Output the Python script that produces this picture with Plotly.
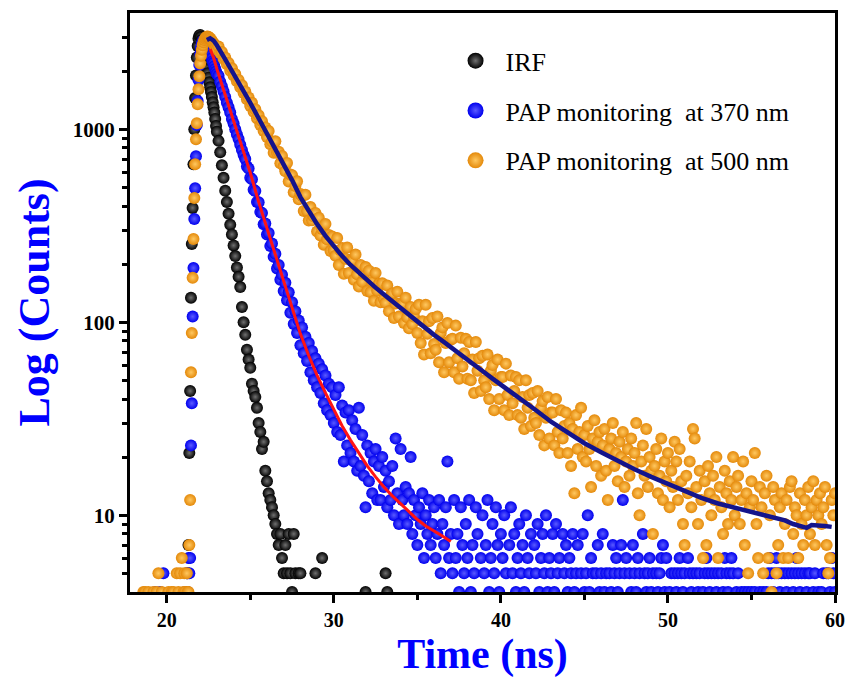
import math
import plotly.graph_objects as go

# ---------------- data ----------------
# time channels (ns): 0.1 ns steps, 0.05 ns around the rise/peak
TIME_NS = [
    18.5, 18.6, 18.7, 18.8, 18.9, 19.0, 19.1, 19.2, 19.3, 19.4,
    19.5, 19.6, 19.7, 19.8, 19.9, 20.0, 20.1, 20.2, 20.3, 20.4,
    20.5, 20.6, 20.7, 20.8, 20.9, 21.0,
    21.05, 21.1, 21.15, 21.2, 21.25, 21.3, 21.35, 21.4, 21.45, 21.5,
    21.55, 21.6, 21.65, 21.7, 21.75, 21.8, 21.85, 21.9, 21.95, 22.0,
    22.05, 22.1, 22.15, 22.2, 22.25, 22.3, 22.35, 22.4, 22.45, 22.5,
    22.55, 22.6, 22.65, 22.7, 22.75, 22.8, 22.85, 22.9, 22.95, 23.0,
    23.1, 23.2, 23.3, 23.4, 23.5, 23.6, 23.7, 23.8, 23.9, 24.0,
    24.1, 24.2, 24.3, 24.4, 24.5, 24.6, 24.7, 24.8, 24.9, 25.0,
    25.1, 25.2, 25.3, 25.4, 25.5, 25.6, 25.7, 25.8, 25.9, 26.0,
    26.1, 26.2, 26.3, 26.4, 26.5, 26.6, 26.7, 26.8, 26.9, 27.0,
    27.1, 27.2, 27.3, 27.4, 27.5, 27.6, 27.7, 27.8, 27.9, 28.0,
    28.1, 28.2, 28.3, 28.4, 28.5, 28.6, 28.7, 28.8, 28.9, 29.0,
    29.1, 29.2, 29.3, 29.4, 29.5, 29.6, 29.7, 29.8, 29.9, 30.0,
    30.1, 30.2, 30.3, 30.4, 30.5, 30.6, 30.7, 30.8, 30.9, 31.0,
    31.1, 31.2, 31.3, 31.4, 31.5, 31.6, 31.7, 31.8, 31.9, 32.0,
    32.1, 32.2, 32.3, 32.4, 32.5, 32.6, 32.7, 32.8, 32.9, 33.0,
    33.1, 33.2, 33.3, 33.4, 33.5, 33.6, 33.7, 33.8, 33.9, 34.0,
    34.1, 34.2, 34.3, 34.4, 34.5, 34.6, 34.7, 34.8, 34.9, 35.0,
    35.1, 35.2, 35.3, 35.4, 35.5, 35.6, 35.7, 35.8, 35.9, 36.0,
    36.1, 36.2, 36.3, 36.4, 36.5, 36.6, 36.7, 36.8, 36.9, 37.0,
    37.1, 37.2, 37.3, 37.4, 37.5, 37.6, 37.7, 37.8, 37.9, 38.0,
    38.1, 38.2, 38.3, 38.4, 38.5, 38.6, 38.7, 38.8, 38.9, 39.0,
    39.1, 39.2, 39.3, 39.4, 39.5, 39.6, 39.7, 39.8, 39.9, 40.0,
    40.1, 40.2, 40.3, 40.4, 40.5, 40.6, 40.7, 40.8, 40.9, 41.0,
    41.1, 41.2, 41.3, 41.4, 41.5, 41.6, 41.7, 41.8, 41.9, 42.0,
    42.1, 42.2, 42.3, 42.4, 42.5, 42.6, 42.7, 42.8, 42.9, 43.0,
    43.1, 43.2, 43.3, 43.4, 43.5, 43.6, 43.7, 43.8, 43.9, 44.0,
    44.1, 44.2, 44.3, 44.4, 44.5, 44.6, 44.7, 44.8, 44.9, 45.0,
    45.1, 45.2, 45.3, 45.4, 45.5, 45.6, 45.7, 45.8, 45.9, 46.0,
    46.1, 46.2, 46.3, 46.4, 46.5, 46.6, 46.7, 46.8, 46.9, 47.0,
    47.1, 47.2, 47.3, 47.4, 47.5, 47.6, 47.7, 47.8, 47.9, 48.0,
    48.1, 48.2, 48.3, 48.4, 48.5, 48.6, 48.7, 48.8, 48.9, 49.0,
    49.1, 49.2, 49.3, 49.4, 49.5, 49.6, 49.7, 49.8, 49.9, 50.0,
    50.1, 50.2, 50.3, 50.4, 50.5, 50.6, 50.7, 50.8, 50.9, 51.0,
    51.1, 51.2, 51.3, 51.4, 51.5, 51.6, 51.7, 51.8, 51.9, 52.0,
    52.1, 52.2, 52.3, 52.4, 52.5, 52.6, 52.7, 52.8, 52.9, 53.0,
    53.1, 53.2, 53.3, 53.4, 53.5, 53.6, 53.7, 53.8, 53.9, 54.0,
    54.1, 54.2, 54.3, 54.4, 54.5, 54.6, 54.7, 54.8, 54.9, 55.0,
    55.1, 55.2, 55.3, 55.4, 55.5, 55.6, 55.7, 55.8, 55.9, 56.0,
    56.1, 56.2, 56.3, 56.4, 56.5, 56.6, 56.7, 56.8, 56.9, 57.0,
    57.1, 57.2, 57.3, 57.4, 57.5, 57.6, 57.7, 57.8, 57.9, 58.0,
    58.1, 58.2, 58.3, 58.4, 58.5, 58.6, 58.7, 58.8, 58.9, 59.0,
    59.1, 59.2, 59.3, 59.4, 59.5, 59.6, 59.7, 59.8, 59.9, 60.0,
]

IRF_COUNTS = [
    1, 2, 1, 2, 1, 2, 1, 2, 1, 2,
    1, 2, 1, 2, 1, 2, 1, 2, 1, 2,
    2, 1, 2, 2, 3, 2,
    2, 3, 2, 4, 5, 7, 21, 44, 134, 254,
    391, 659, 1000, 1450, 1900, 2350, 2700, 2950, 3050, 3080,
    3000, 2900, 2750, 2600, 2450, 2300, 2150, 2050, 1950, 1850,
    1750, 1650, 1560, 1470, 1380, 1300, 1220, 1130, 1040, 970,
    870, 760, 650, 560, 480, 420, 365, 320, 285, 250,
    220, 192, 172, 152, 120, 100, 86, 72, 64, 58,
    48, 44, 41, 36, 30, 27, 22, 24, 17, 15,
    13, 12, 11, 10, 9, 8, 7, 8, 6, 5,
    7, 5, 8, 5, 4, 8, 5, 3, 5, 5,
    3, 2, 3, 2, 3, 2, 3, 2, 5, 2,
    3, 1, 6, 2, 1, 2, 3, 1, 2, 1,
    2, 1, 2, 3, 1, 2, 1, 2, 1, 2,
    1, 2, 1, 3, 1, 2, 1, 2, 4, 1,
    2, 1, 2, 1, 3, 1, 2, 1, 2, 1,
    5, 4, 1, 2, 1, 2, 1, 2, 1, 2,
    1, 2, 0, 1, 2, 1, 0, 2, 1, 1,
    2, 1, 1, 0, 2, 1, 2, 1, 0, 1,
    1, 0, 2, 1, 1, 2, 0, 1, 2, 1,
    0, 1, 2, 1, 0, 1, 1, 2, 1, 0,
    2, 1, 0, 1, 2, 0, 1, 1, 0, 2,
    1, 1, 0, 2, 1, 0, 1, 2, 1, 1,
    0, 2, 1, 1, 0, 1, 2, 0, 1, 1,
    1, 0, 1, 2, 1, 1, 0, 1, 2, 0,
    2, 1, 1, 0, 1, 2, 1, 0, 1, 1,
    1, 2, 0, 1, 1, 0, 2, 1, 1, 0,
    0, 1, 1, 2, 0, 1, 1, 0, 2, 1,
    1, 0, 2, 1, 1, 0, 1, 1, 0, 2,
    1, 1, 0, 1, 2, 1, 0, 1, 1, 0,
    2, 0, 1, 1, 0, 1, 2, 1, 0, 1,
    0, 1, 1, 0, 2, 1, 1, 0, 1, 2,
    1, 2, 1, 0, 1, 1, 0, 2, 1, 0,
    1, 0, 1, 2, 1, 0, 1, 1, 2, 1,
    0, 1, 2, 1, 0, 1, 1, 0, 1, 2,
    1, 1, 0, 1, 2, 0, 1, 1, 0, 1,
    2, 1, 1, 0, 1, 2, 1, 0, 1, 1,
    0, 1, 0, 2, 1, 1, 0, 1, 2, 1,
    1, 2, 1, 0, 1, 0, 2, 1, 1, 0,
    1, 0, 1, 1, 2, 1, 0, 1, 0, 2,
    0, 1, 2, 1, 1, 0, 1, 2, 1, 1,
    1, 1, 0, 2, 1, 1, 0, 1, 1, 0,
    2, 0, 1, 1, 0, 2, 1, 1, 0, 1,
]

PAP370_COUNTS = [
    2, 3, 2, 3, 2, 3, 2, 3, 4, 2,
    3, 4, 3, 5, 3, 2, 3, 2, 3, 2,
    3, 2, 3, 3, 3, 3,
    3, 4, 3, 5, 4, 6, 5, 6, 23, 38,
    107, 191, 343, 495, 725, 1050, 1400, 1800, 2150, 2450,
    2650, 2780, 2850, 2880, 2870, 2840, 2800, 2750, 2700, 2620,
    2560, 2480, 2400, 2330, 2250, 2200, 2120, 2050, 1990, 1930,
    1890, 1760, 1670, 1570, 1470, 1370, 1300, 1220, 1130, 1070,
    1000, 940, 890, 830, 780, 735, 700, 640, 625, 560,
    550, 485, 478, 420, 418, 372, 368, 322, 325, 285,
    290, 248, 256, 218, 226, 190, 198, 166, 176, 145,
    160, 130, 143, 112, 127, 98, 114, 88, 102, 76,
    94, 69, 84, 63, 78, 55, 71, 50, 65, 46,
    61, 43, 57, 38, 53, 35, 48, 33, 46, 30,
    42, 27, 46, 26, 37, 19, 34, 23, 35, 21,
    31, 19, 28, 17, 36, 18, 26, 16, 11, 23,
    15, 21, 13, 19, 22, 12, 18, 12, 20, 14,
    17, 11, 15, 12, 18, 10, 25, 13, 9, 22,
    12, 10, 14, 9, 13, 20, 8, 12, 10, 7,
    11, 9, 13, 6, 10, 8, 12, 7, 9, 11,
    6, 8, 12, 5, 9, 7, 11, 19, 6, 8,
    5, 12, 6, 8, 4, 11, 7, 5, 9, 6,
    12, 4, 7, 5, 11, 8, 3, 6, 10, 5,
    7, 12, 4, 6, 9, 5, 11, 7, 4, 8,
    6, 10, 5, 3, 7, 11, 5, 8, 4, 6,
    9, 5, 7, 4, 10, 6, 5, 8, 3, 7,
    5, 9, 4, 6, 8, 5, 10, 4, 6, 5,
    8, 4, 9, 5, 6, 3, 8, 5, 7, 4,
    6, 5, 8, 4, 5, 7, 3, 5, 8, 4,
    5, 10, 4, 6, 5, 3, 5, 7, 4, 5,
    8, 4, 5, 3, 5, 4, 7, 5, 6, 4,
    5, 7, 12, 5, 6, 3, 5, 4, 7, 5,
    4, 6, 5, 3, 8, 5, 4, 5, 6, 4,
    5, 3, 5, 4, 5, 6, 7, 4, 6, 3,
    4, 5, 3, 5, 4, 5, 6, 5, 4, 5,
    3, 6, 5, 4, 5, 3, 5, 4, 5, 3,
    4, 5, 6, 5, 4, 5, 3, 5, 4, 5,
    3, 5, 4, 6, 5, 4, 5, 6, 5, 3,
    4, 5, 3, 4, 3, 4, 2, 4, 3, 4,
    3, 4, 3, 2, 4, 3, 4, 3, 4, 5,
    6, 5, 4, 5, 6, 5, 4, 5, 3, 5,
    4, 5, 3, 5, 4, 5, 6, 5, 4, 5,
    3, 5, 4, 5, 5, 3, 4, 5, 3, 4,
    3, 4, 5, 3, 5, 5, 4, 6, 5, 4,
]

PAP500_COUNTS = [
    3, 4, 4, 3, 4, 2, 3, 4, 3, 4,
    5, 3, 4, 3, 2, 3, 4, 3, 4, 4,
    3, 5, 4, 5, 6, 4,
    5, 4, 3, 5, 4, 4, 7, 12, 55, 88,
    170, 270, 440, 659, 888, 1075, 1346, 1610, 1880, 2190,
    2400, 2580, 2720, 2820, 2900, 2950, 2990, 3010, 3020, 3000,
    2980, 2950, 2910, 2870, 2820, 2780, 2730, 2680, 2640, 2590,
    2680, 2480, 2510, 2320, 2350, 2170, 2200, 2010, 2070, 1900,
    1930, 1770, 1800, 1650, 1690, 1540, 1570, 1430, 1460, 1320,
    1370, 1230, 1270, 1140, 1180, 1050, 1100, 980, 1020, 910,
    979, 836, 863, 754, 865, 754, 764, 666, 727, 644,
    605, 669, 536, 582, 578, 471, 508, 537, 434, 461,
    451, 377, 458, 377, 336, 395, 337, 353, 368, 295,
    348, 281, 304, 252, 323, 269, 283, 234, 278, 236,
    221, 273, 198, 236, 242, 178, 213, 244, 180, 210,
    208, 166, 224, 177, 153, 198, 162, 178, 193, 145,
    185, 143, 162, 129, 180, 146, 158, 127, 159, 132,
    126, 155, 114, 137, 141, 105, 125, 144, 107, 125,
    124, 99, 134, 106, 93, 120, 98, 107, 117, 88,
    123, 78, 101, 68, 123, 87, 101, 69, 105, 77,
    72, 107, 62, 88, 94, 55, 78, 99, 62, 81,
    82, 55, 96, 65, 51, 83, 59, 69, 82, 51,
    79, 50, 64, 43, 79, 56, 65, 44, 67, 50,
    46, 68, 40, 56, 60, 35, 50, 64, 40, 52,
    52, 35, 61, 42, 33, 53, 38, 44, 52, 33,
    50, 32, 41, 28, 50, 36, 42, 29, 43, 32,
    30, 44, 26, 36, 39, 23, 32, 41, 25, 34,
    34, 23, 40, 27, 21, 35, 25, 29, 34, 21,
    30, 18, 28, 13, 33, 22, 27, 36, 20, 26,
    19, 29, 22, 14, 25, 31, 18, 24, 27, 16,
    23, 28, 17, 12, 22, 25, 30, 18, 21, 15,
    24, 20, 27, 14, 19, 22, 16, 25, 18, 21,
    30, 13, 10, 19, 23, 16, 28, 14, 20, 17,
    8, 18, 22, 13, 16, 25, 12, 19, 15, 21,
    11, 17, 14, 24, 19, 12, 22, 15, 9, 7,
    16, 13, 19, 11, 28, 25, 14, 9, 17, 12,
    6, 15, 7, 18, 13, 10, 16, 12, 20, 6,
    14, 11, 8, 17, 13, 9, 15, 12, 20, 10,
    14, 16, 9, 12, 19, 7, 13, 5, 11, 15,
    12, 21, 9, 6, 14, 11, 5, 13, 16, 6,
    10, 4, 14, 12, 5, 7, 11, 13, 6, 9,
    12, 6, 14, 15, 8, 11, 10, 6, 13, 9,
    7, 12, 10, 14, 8, 11, 15, 7, 12, 10,
    13, 9, 11, 14, 7, 5, 6, 12, 10, 13,
]

# fitted decay curves
FIT370_TIME = [22.6, 22.8, 23.0, 23.5, 24.0, 24.5, 25.0, 25.5, 26.0, 26.5,
               27.0, 27.5, 28.0, 28.5, 29.0, 29.5, 30.0, 30.5, 31.0, 31.5,
               32.0, 32.5, 33.0, 33.5, 34.0, 34.5, 35.0, 35.5, 36.0, 36.5, 37.0]
FIT370_COUNTS = [2600, 2350, 2050, 1500, 1100, 810, 595, 420, 305, 222,
                 162, 117, 87, 67, 53, 43, 35, 29, 24.5, 21,
                 18, 15.8, 14, 12.6, 11.5, 10.4, 9.5, 8.8, 8.3, 7.8, 7.3]

FIT500_TIME = [22.4, 22.6, 22.8, 23.0, 23.5, 24.0, 24.5, 25.0, 25.5, 26.0,
               26.5, 27.0, 27.5, 28.0, 28.5, 29.0, 29.5, 30.0, 30.5, 31.0,
               31.5, 32.0, 32.5, 33.0, 33.5, 34.0, 34.5, 35.0, 35.5, 36.0,
               36.5, 37.0, 37.5, 38.0, 38.5, 39.0, 39.5, 40.0, 41.0, 42.0,
               43.0, 44.0, 45.0, 46.0, 47.0, 48.0, 49.0, 50.0, 51.0, 51.5,
               52.0, 53.0, 54.0, 55.0, 56.0, 57.0, 57.5, 58.0, 58.3, 58.6,
               59.0, 59.4, 59.8]
FIT500_COUNTS = [2900, 2960, 2880, 2720, 2300, 1950, 1640, 1370, 1140, 950,
                 790, 660, 545, 445, 375, 322, 280, 246, 220, 198,
                 180, 165, 151, 139, 128, 118, 109, 100, 93, 86,
                 80, 74, 69, 64, 59.5, 55, 51, 47.5, 41, 35.5,
                 30.5, 26.8, 23.6, 21.2, 19.1, 17.3, 15.8, 14.5, 13.3, 12.9,
                 12.3, 11.5, 10.9, 10.4, 9.9, 9.4, 9.0, 8.7, 8.6, 8.9,
                 8.9, 8.8, 8.7]

SERIES_NAMES = ["IRF", "PAP monitoring\u00a0 at 370 nm", "PAP monitoring\u00a0 at 500 nm"]
X_TICKS = [20, 30, 40, 50, 60]
Y_TICKS = [10, 100, 1000]
Y_TICK_TEXT = ["10", "100", "1000"]
Y_MINOR = [5, 6, 7, 8, 9, 20, 30, 40, 50, 60, 70, 80, 90,
           200, 300, 400, 500, 600, 700, 800, 900, 2000, 3000]

assert len(TIME_NS) == len(IRF_COUNTS) == len(PAP370_COUNTS) == len(PAP500_COUNTS), (
    len(TIME_NS), len(IRF_COUNTS), len(PAP370_COUNTS), len(PAP500_COUNTS))

# ---------------- styling ----------------
SERIF = "Liberation Serif, Times New Roman, serif"
STYLES = [
    dict(color="#000000", center="#707070"),
    dict(color="#0000ee", center="#5a5aff"),
    dict(color="#e4890a", center="#ffc860"),
]

fig = go.Figure()

for vals, st in zip([IRF_COUNTS, PAP370_COUNTS, PAP500_COUNTS], STYLES):
    fig.add_trace(go.Scatter(
        x=TIME_NS, y=vals, mode="markers", showlegend=False, hoverinfo="skip",
        marker=dict(size=12, color=st["color"], line=dict(width=0),
                    gradient=dict(type="radial", color=st["center"])),
    ))

fig.add_trace(go.Scatter(x=FIT370_TIME, y=FIT370_COUNTS, mode="lines",
                         line=dict(color="#ff1414", width=3), showlegend=False))
fig.add_trace(go.Scatter(x=FIT500_TIME, y=FIT500_COUNTS, mode="lines",
                         line=dict(color="#14148c", width=4.5), showlegend=False))

# legend entries (larger spheres than the data points)
for i, (name, st) in enumerate(zip(SERIES_NAMES, STYLES)):
    fig.add_trace(go.Scatter(
        x=[None], y=[None], mode="markers", name=name, legendgroup=f"g{i}",
        marker=dict(size=16, color=st["color"], line=dict(width=0),
                    gradient=dict(type="radial", color=st["center"])),
    ))

axis_common = dict(
    showline=True, linewidth=3, linecolor="black", mirror=True,
    showgrid=False, zeroline=False,
    ticks="outside", tickwidth=3, tickcolor="black", ticklen=8,
)

fig.update_layout(
    width=855, height=678,
    margin=dict(l=130, r=10, t=12, b=86),
    paper_bgcolor="white", plot_bgcolor="white",
    showlegend=True,
    legend=dict(
        x=0.4476, y=0.958, xanchor="left", yanchor="top",
        font=dict(family=SERIF, size=26, color="black"),
        itemwidth=50, tracegroupgap=13, bgcolor="rgba(0,0,0,0)",
    ),
    xaxis=dict(
        range=[17.8, 60], tickvals=X_TICKS,
        tickfont=dict(family=SERIF, size=20, color="black", weight="bold"),
        minor=dict(ticks="outside", ticklen=5, tickwidth=3, tickcolor="black",
                   tick0=0, dtick=5, showgrid=False),
        title=dict(text="Time (ns)", standoff=2,
                   font=dict(family=SERIF, size=42, color="#0000ff", weight="bold")),
        **axis_common,
    ),
    yaxis=dict(
        type="log", range=[math.log10(4), math.log10(4000)],
        tickvals=Y_TICKS, ticktext=Y_TICK_TEXT,
        tickfont=dict(family=SERIF, size=21, color="black", weight="bold"),
        minor=dict(ticks="outside", ticklen=5, tickwidth=3, tickcolor="black",
                   tickvals=Y_MINOR, showgrid=False),
        title=dict(text="Log (Counts)", standoff=10,
                   font=dict(family=SERIF, size=44, color="#0000ff", weight="bold")),
        **axis_common,
    ),
)

fig.write_html("out.html")
